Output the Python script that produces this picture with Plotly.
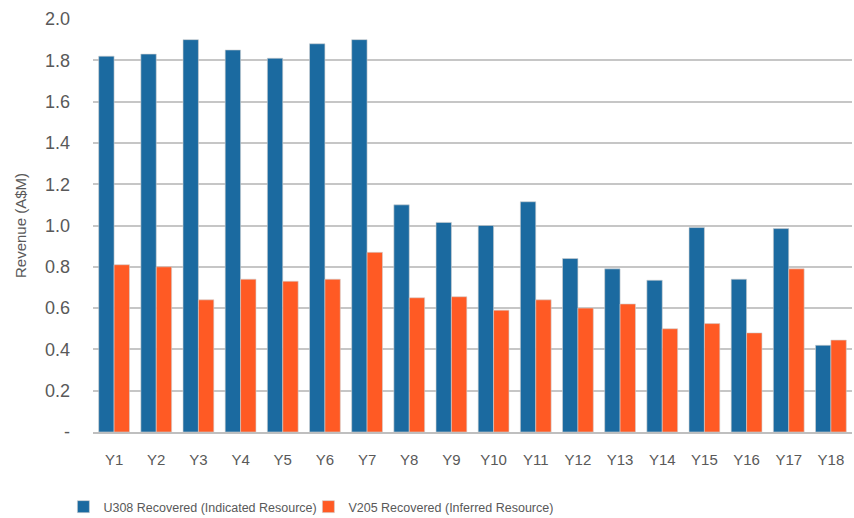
import plotly.graph_objects as go

categories = ["Y1", "Y2", "Y3", "Y4", "Y5", "Y6", "Y7", "Y8", "Y9", "Y10",
              "Y11", "Y12", "Y13", "Y14", "Y15", "Y16", "Y17", "Y18"]
u308 = [1.82, 1.83, 1.90, 1.85, 1.81, 1.88, 1.90, 1.10, 1.015, 1.00,
        1.115, 0.84, 0.79, 0.735, 0.99, 0.74, 0.985, 0.42]
v205 = [0.81, 0.80, 0.64, 0.74, 0.73, 0.74, 0.87, 0.65, 0.655, 0.59,
        0.64, 0.60, 0.62, 0.50, 0.525, 0.48, 0.79, 0.445]
tick_vals = [0, 0.2, 0.4, 0.6, 0.8, 1.0, 1.2, 1.4, 1.6, 1.8, 2.0]
tick_text = ["-", "0.2", "0.4", "0.6", "0.8", "1.0", "1.2", "1.4", "1.6", "1.8", "2.0"]

font = "Liberation Sans, Arial, sans-serif"
gray = "#595959"

fig = go.Figure()
fig.add_trace(go.Bar(x=categories, y=u308, name="U308 Recovered (Indicated Resource)",
                     marker=dict(color="#1b6aa0", line=dict(color="#d0d0d0", width=0.6))))
fig.add_trace(go.Bar(x=categories, y=v205, name="V205 Recovered (Inferred Resource)",
                     marker=dict(color="#ff5a24", line=dict(color="#d0d0d0", width=0.6))))

fig.update_layout(
    width=854, height=518,
    barmode="group", bargap=0.27, bargroupgap=0,
    plot_bgcolor="white", paper_bgcolor="white",
    margin=dict(l=93, r=2, t=19, b=86, autoexpand=False),
    font=dict(family=font, color=gray, size=15),
    showlegend=True,
    legend=dict(orientation="h", x=-0.039, y=-0.1816, xanchor="left", yanchor="middle",
                font=dict(size=12.5, color=gray), itemwidth=30,
                traceorder="normal", entrywidth=200),
    xaxis=dict(showgrid=False, showline=True, linecolor="#bfbfbf", linewidth=2,
               ticks="", tickfont=dict(size=15, color=gray), ticklabelstandoff=13),
    yaxis=dict(range=[0, 2.0], tickvals=tick_vals, ticktext=tick_text,
               showgrid=True, gridcolor="#c6c6c6", gridwidth=2,
               zeroline=False, showline=False, ticks="",
               tickfont=dict(size=18, color=gray), ticklabelstandoff=22,
               title=dict(text="Revenue (A$M)", font=dict(size=15, color=gray), standoff=14)),
)

fig.write_html("out.html", config={"displayModeBar": False},
               post_script="document.body.style.margin='0';document.body.style.padding='0';")
